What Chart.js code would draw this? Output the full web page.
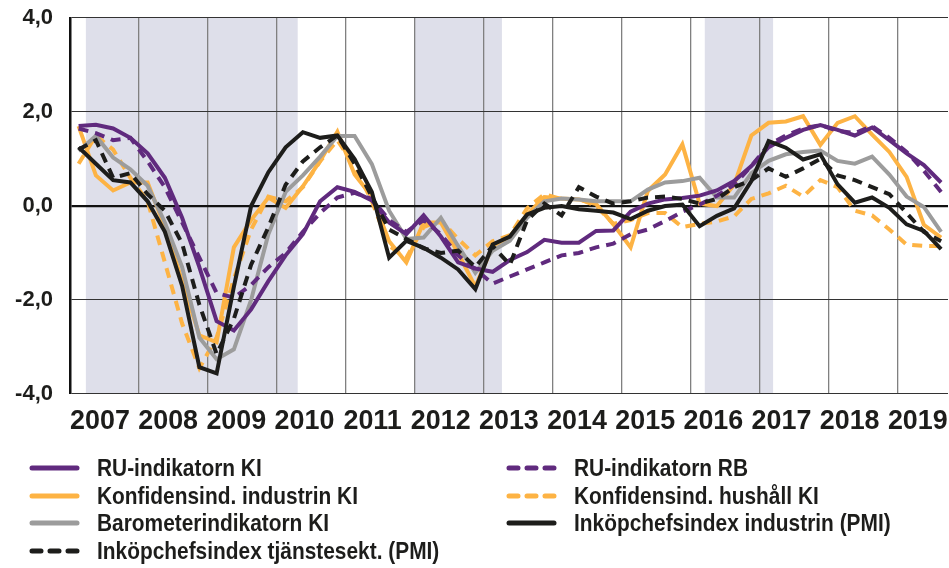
<!DOCTYPE html>
<html>
<head>
<meta charset="utf-8">
<script src="https://cdn.jsdelivr.net/npm/chart.js@4.4.1/dist/chart.umd.min.js"></script>
<style>
  html, body { margin: 0; background: #fff; }
</style>
</head>
<body>
<canvas id="chart" width="949" height="568"></canvas>
<script>
// quarterly data, 2007 Q1 - 2019 Q3, standardised values
const firstYear = 2007;
const yearTicks = [2007, 2008, 2009, 2010, 2011, 2012, 2013, 2014, 2015, 2016, 2017, 2018, 2019];
const yearLabels = ["2007", "2008", "2009", "2010", "2011", "2012", "2013", "2014", "2015", "2016", "2017", "2018", "2019"];
const yTicks = [-4, -2, 0, 2, 4];
const shadedPeriods = [[2007.23, 2010.3], [2012.0, 2013.26], [2016.2, 2017.19]];

const ruKI = [1.70, 1.73, 1.65, 1.45, 1.12, 0.60, -0.25, -1.30, -2.45, -2.65, -2.20, -1.60, -1.05, -0.60, 0.10, 0.40, 0.30, 0.12, -0.35, -0.60, -0.20, -0.65, -1.20, -1.33, -1.40, -1.15, -0.98, -0.72, -0.78, -0.78, -0.53, -0.52, -0.12, 0.05, 0.14, 0.17, 0.22, 0.33, 0.53, 0.85, 1.25, 1.45, 1.62, 1.72, 1.62, 1.50, 1.67, 1.40, 1.12, 0.87, 0.50];
const ruRB = [1.65, 1.55, 1.40, 1.45, 0.95, 0.40, -0.35, -1.10, -1.85, -1.95, -1.68, -1.30, -1.00, -0.55, -0.15, 0.18, 0.28, 0.15, -0.30, -0.55, -0.30, -0.60, -1.05, -1.35, -1.65, -1.50, -1.35, -1.20, -1.05, -1.00, -0.88, -0.80, -0.60, -0.50, -0.32, -0.12, 0.03, 0.22, 0.45, 0.85, 1.30, 1.50, 1.65, 1.72, 1.60, 1.55, 1.70, 1.45, 1.15, 0.75, 0.30];
const konfIndustri = [1.70, 0.65, 0.33, 0.50, 0.50, -0.45, -1.60, -2.75, -2.90, -0.88, -0.30, 0.18, -0.04, 0.42, 0.96, 1.58, 0.67, 0.20, -0.75, -1.20, -0.35, -0.35, -1.00, -1.72, -0.85, -0.65, -0.18, 0.19, 0.16, 0.14, 0.04, -0.39, -0.88, 0.32, 0.67, 1.31, 0.05, 0.00, 0.45, 1.50, 1.77, 1.80, 1.91, 1.30, 1.77, 1.91, 1.52, 1.15, 0.62, -0.40, -0.67];
const konfHushall = [0.90, 1.50, 1.20, 0.60, 0.10, -1.20, -2.50, -3.45, -2.80, -1.55, -0.50, 0.20, 0.10, 0.40, 0.95, 1.40, 0.85, 0.10, -0.85, -1.10, -0.45, -0.30, -0.70, -1.05, -0.75, -0.62, -0.05, 0.25, 0.15, 0.15, 0.00, -0.38, -0.30, -0.15, -0.15, -0.45, -0.38, -0.33, -0.22, 0.15, 0.27, 0.43, 0.20, 0.55, 0.40, -0.10, -0.20, -0.50, -0.82, -0.85, -0.85];
const barometer = [1.17, 1.49, 1.03, 0.78, 0.43, -0.35, -1.30, -2.80, -3.26, -3.05, -2.00, -0.60, 0.30, 0.65, 1.05, 1.49, 1.49, 0.89, -0.10, -0.70, -0.67, -0.25, -0.85, -1.42, -0.95, -0.74, -0.25, 0.10, 0.16, 0.14, 0.10, 0.10, 0.10, 0.35, 0.50, 0.53, 0.60, 0.18, 0.18, 0.70, 0.96, 1.10, 1.15, 1.18, 0.96, 0.90, 1.05, 0.67, 0.20, -0.02, -0.55];
const pmiIndustri = [1.25, 0.90, 0.55, 0.50, 0.10, -0.55, -1.70, -3.43, -3.56, -1.72, 0.00, 0.72, 1.25, 1.57, 1.45, 1.50, 1.00, 0.30, -1.10, -0.74, -0.89, -1.10, -1.35, -1.77, -0.82, -0.65, -0.18, -0.04, 0.00, -0.07, -0.10, -0.14, -0.28, -0.10, 0.00, 0.03, -0.43, -0.21, -0.05, 0.53, 1.38, 1.24, 0.99, 1.10, 0.46, 0.07, 0.18, -0.04, -0.39, -0.53, -0.92];
const pmiTjanst = [1.20, 1.40, 0.60, 0.70, 0.25, -0.10, -0.80, -2.10, -3.15, -2.40, -1.25, -0.45, 0.45, 0.95, 1.25, 1.50, 0.90, 0.20, -0.50, -0.70, -0.90, -1.00, -0.95, -1.30, -0.85, -1.25, -0.30, 0.05, -0.20, 0.40, 0.20, 0.05, 0.10, 0.18, 0.20, 0.15, 0.05, 0.15, 0.40, 0.55, 0.80, 0.62, 0.80, 1.00, 0.65, 0.55, 0.40, 0.25, -0.15, -0.55, -0.75];

const PURPLE = "#602a7e", ORANGE = "#fdb344", GREY = "#9c9c9c", BLACK = "#1d1d1b";
const DASH = [10, 7];
const BOLD_FONT = "'Liberation Sans', Arial, sans-serif";

// quarter midpoints on a year axis
const toPoints = vals => vals.map((v, i) => ({ x: firstYear + (i + 0.5) / 4, y: v }));

const series = [
  { label: "RU-indikatorn KI", data: ruKI, color: PURPLE, dashed: false, order: 2 },
  { label: "RU-indikatorn RB", data: ruRB, color: PURPLE, dashed: true, order: 3 },
  { label: "Konfidensind. industrin KI", data: konfIndustri, color: ORANGE, dashed: false, order: 5 },
  { label: "Konfidensind. hushåll KI", data: konfHushall, color: ORANGE, dashed: true, order: 6 },
  { label: "Barometerindikatorn KI", data: barometer, color: GREY, dashed: false, order: 4 },
  { label: "Inköpchefsindex industrin (PMI)", data: pmiIndustri, color: BLACK, dashed: false, order: 0 },
  { label: "Inköpchefsindex tjänstesekt. (PMI)", data: pmiTjanst, color: BLACK, dashed: true, order: 1 }
];

// draws condensed text by squeezing the x direction
function narrowText(ctx, text, x, y, squeeze, align) {
  ctx.save();
  ctx.translate(x, y);
  ctx.scale(squeeze, 1);
  ctx.textAlign = align;
  ctx.fillText(text, 0, 0);
  ctx.restore();
}

const shading = {
  id: "shading",
  beforeDraw(c) {
    const { ctx, chartArea: a, scales: { x } } = c;
    ctx.save();
    ctx.fillStyle = "#dedfea";
    shadedPeriods.forEach(([s, e]) => {
      const x0 = x.getPixelForValue(s), x1 = x.getPixelForValue(e);
      ctx.fillRect(x0, a.top, x1 - x0, a.bottom - a.top);
    });
    ctx.restore();
  }
};

// year labels sit between the year gridlines, slightly left of centre
const yearText = {
  id: "yearText",
  afterDraw(c) {
    const { ctx, chartArea: a, scales: { x } } = c;
    ctx.save();
    ctx.font = "bold 28px " + BOLD_FONT;
    ctx.fillStyle = "#1d1d1b";
    ctx.textBaseline = "alphabetic";
    yearTicks.forEach((yr, i) => {
      const cx = x.getPixelForValue(yr + 0.5) - 4.5 - i * 0.85;
      narrowText(ctx, yearLabels[i], cx, a.bottom + 35, 0.96, "center");
    });
    ctx.restore();
  }
};

// two-column legend under the plot
const legendBox = {
  id: "legendBox",
  afterDraw(c) {
    const ctx = c.ctx;
    const cols = [30, 507];
    const rows = [468, 496, 523, 551];
    ctx.save();
    ctx.font = "bold 24px " + BOLD_FONT;
    ctx.textBaseline = "middle";
    ctx.fillStyle = "#1d1d1b";
    series.forEach((s, i) => {
      const x = cols[i % 2], y = rows[Math.floor(i / 2)];
      ctx.beginPath();
      ctx.strokeStyle = s.color;
      ctx.lineWidth = 5;
      ctx.lineCap = "round";
      ctx.setLineDash(s.dashed ? [9, 9] : []);
      ctx.moveTo(x + 2, y);
      ctx.lineTo(x + 47, y);
      ctx.stroke();
      ctx.setLineDash([]);
      narrowText(ctx, s.label, x + 67, y + 1, 0.87, "left");
    });
    ctx.restore();
  }
};

new Chart(document.getElementById("chart"), {
  type: "line",
  data: {
    datasets: series.map(s => ({
      label: s.label,
      data: toPoints(s.data),
      borderColor: s.color,
      borderWidth: 4,
      borderDash: s.dashed ? DASH : [],
      pointRadius: 0,
      tension: 0,
      order: s.order
    }))
  },
  options: {
    responsive: false,
    animation: false,
    layout: { autoPadding: false, padding: { top: 18, right: 1, left: 0, bottom: 130 } },
    plugins: { legend: { display: false }, tooltip: { enabled: false } },
    scales: {
      x: {
        type: "linear",
        min: 2007,
        max: 2019.725,
        afterBuildTicks: s => { s.ticks = yearTicks.map(v => ({ value: v })); },
        afterFit: s => { s.height = 44; s.paddingLeft = 0; s.paddingRight = 0; },
        grid: { color: "#808080", lineWidth: 1.3, drawTicks: false },
        border: { display: false },
        ticks: { display: false }
      },
      y: {
        min: -4,
        max: 4,
        afterBuildTicks: s => { s.ticks = yTicks.map(v => ({ value: v })); },
        afterFit: s => { s.width = 70; s.paddingTop = 0; s.paddingBottom = 0; },
        grid: {
          color: ctx => ctx.tick.value === 0 ? "#111" : "#333",
          lineWidth: ctx => ctx.tick.value === 0 ? 2.2 : 1.1,
          drawTicks: false
        },
        border: { display: true, color: "#111", width: 2.5 },
        ticks: {
          callback: v => v.toFixed(1).replace(".", ","),
          padding: 17,
          color: "#1d1d1b",
          font: { family: BOLD_FONT, size: 22, weight: "bold" }
        }
      }
    }
  },
  plugins: [shading, yearText, legendBox]
});
</script>
</body>
</html>
